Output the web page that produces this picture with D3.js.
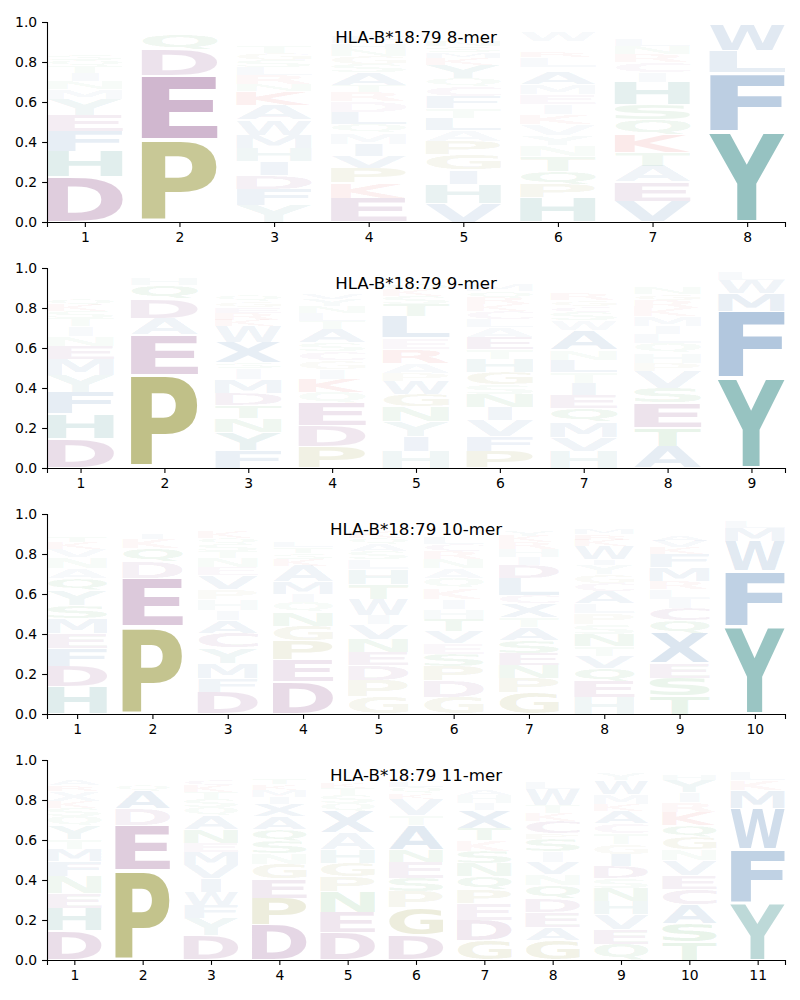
<!DOCTYPE html>
<html>
<head>
<meta charset="utf-8">
<script src="https://cdn.jsdelivr.net/npm/d3@7/dist/d3.min.js"></script>
<style>
body { margin: 0; background: #fff; }
svg text { font-family: "DejaVu Sans", sans-serif; }
</style>
</head>
<body>
<div id="main"></div>
<script>
var allele = "HLA-B*18:79";
var lengths = [8, 9, 10, 11];

// residue frequencies per position, listed bottom to top of each stack
var mer8 = [
    {D:.225,H:.13,F:.10,E:.08,Y:.08,M:.05,N:.04,I:.04,T:.035,Q:.03,S:.03,V:.025,A:.025,K:.02,R:.02,G:.015,L:.02,P:.015,W:.01,C:.01},
    {P:.41,E:.32,D:.13,Q:.075,A:.012,S:.01,N:.008,T:.007,G:.006,K:.005,V:.004,L:.004,R:.003,H:.003},
    {Y:.085,F:.08,D:.07,I:.07,H:.065,M:.065,W:.075,A:.075,K:.07,N:.035,R:.045,L:.04,S:.035,G:.035,T:.035,Q:.025,V:.025,E:.025,P:.02,C:.015},
    {E:.12,K:.075,P:.075,V:.06,I:.06,M:.055,Q:.045,L:.06,D:.055,R:.045,T:.035,A:.065,S:.04,G:.04,N:.035,H:.03,F:.03,Y:.025,W:.02,C:.015},
    {V:.095,H:.095,I:.07,G:.075,P:.07,A:.055,L:.06,T:.05,F:.06,C:.05,Q:.04,Y:.065,K:.035,M:.03,S:.03,N:.03,E:.025,R:.025,D:.02,W:.015},
    {H:.12,P:.07,Q:.065,T:.075,N:.055,Y:.05,V:.055,K:.05,I:.05,E:.05,M:.05,A:.06,S:.025,L:.05,R:.03,F:.025,G:.025,W:.05,D:.02,C:.02},
    {V:.105,E:.095,A:.08,T:.07,K:.085,Q:.075,S:.075,H:.115,I:.05,C:.05,R:.04,N:.04,L:.03,M:.02,G:.02,D:.015,F:.015,P:.01,W:.005,Y:.005},
    {Y:.455,F:.29,L:.11,W:.13,M:.015}
];

var mer9 = [
    {D:.145,H:.125,F:.11,Y:.085,M:.08,E:.065,N:.05,I:.05,T:.04,S:.035,K:.03,Q:.03,V:.025,L:.025,A:.025,R:.02,G:.02,P:.015,W:.01,C:.01},
    {P:.465,E:.2,A:.085,D:.095,Q:.07,H:.035,S:.015,N:.01,T:.008,K:.006,G:.005,V:.004,L:.003},
    {F:.09,Y:.09,N:.07,T:.065,D:.06,M:.07,I:.055,S:.03,X:.1,W:.08,K:.03,R:.035,E:.03,G:.03,Q:.03,L:.025,A:.025,V:.025,P:.02,C:.015,H:.015},
    {P:.105,D:.105,E:.115,Q:.055,K:.065,I:.05,G:.045,C:.045,S:.04,A:.07,T:.04,L:.04,N:.035,Y:.035,V:.03,R:.025,H:.02,F:.02,M:.015,W:.01},
    {H:.085,I:.075,Y:.075,N:.075,G:.06,W:.065,P:.04,A:.05,R:.07,E:.055,L:.11,T:.06,S:.04,K:.03,Q:.03,V:.025,F:.02,D:.015,M:.01,C:.01},
    {P:.085,F:.075,V:.08,I:.065,N:.065,S:.05,G:.06,H:.065,T:.05,E:.06,A:.05,L:.04,C:.04,K:.035,R:.03,Q:.035,M:.03,Y:.025,W:.02,D:.015},
    {H:.085,V:.07,M:.075,Q:.07,E:.065,I:.06,T:.055,L:.06,N:.05,A:.1,W:.05,S:.04,C:.03,G:.03,R:.03,K:.025,Y:.02,F:.02,D:.015,P:.01},
    {A:.11,T:.09,E:.125,S:.075,V:.085,P:.04,H:.05,Q:.05,L:.045,I:.04,M:.05,K:.04,R:.04,G:.03,N:.03,F:.025,D:.02,W:.015,Y:.01,C:.01},
    {Y:.45,F:.335,M:.09,W:.065,L:.04,I:.015,V:.005}
];

var mer10 = [
    {H:.135,D:.105,F:.09,E:.075,M:.075,S:.065,Y:.075,Q:.06,A:.05,N:.055,V:.04,K:.035,T:.03,R:.025,L:.025,I:.02,G:.02,P:.015,W:.01,C:.01},
    {P:.44,E:.24,D:.08,Q:.07,K:.045,I:.03,A:.025,S:.02,T:.015,N:.01,G:.008,H:.006,V:.005,L:.004},
    {D:.11,F:.07,M:.075,Y:.075,C:.075,A:.065,I:.05,H:.055,P:.05,V:.07,E:.04,N:.045,T:.035,S:.035,Q:.03,K:.03,G:.025,R:.02,L:.02,W:.015},
    {D:.16,E:.11,P:.095,G:.075,N:.07,Q:.05,I:.04,M:.06,A:.08,K:.035,S:.03,T:.03,L:.03,V:.025,R:.025,X:.02,H:.02,F:.02,Y:.015},
    {G:.085,P:.085,D:.075,E:.065,N:.065,V:.075,I:.045,W:.08,T:.075,H:.075,L:.05,S:.04,A:.035,Q:.03,K:.03,R:.025,F:.02,Y:.02,M:.015,C:.01},
    {G:.085,D:.08,P:.075,S:.06,E:.055,V:.06,T:.06,H:.05,I:.05,K:.055,Q:.05,A:.05,N:.045,R:.04,C:.035,L:.035,Y:.025,F:.025,M:.02,W:.015},
    {G:.105,P:.075,N:.065,E:.06,S:.065,A:.065,T:.05,X:.07,C:.04,L:.085,D:.065,I:.04,H:.04,R:.035,K:.03,Y:.03,M:.025,F:.02,Q:.015,W:.01},
    {H:.085,E:.08,Q:.065,V:.06,T:.05,N:.06,S:.05,P:.055,L:.05,A:.06,C:.04,G:.045,Y:.045,I:.03,W:.065,K:.03,R:.03,M:.03,D:.02,F:.015},
    {T:.09,S:.09,E:.075,X:.15,Q:.065,C:.06,I:.045,L:.05,R:.04,M:.07,F:.065,K:.035,V:.03,A:.03,N:.025,G:.02,H:.02,Y:.015,D:.01,P:.01,W:.005},
    {Y:.44,F:.275,W:.15,M:.065,L:.035,I:.015,V:.01,H:.005,S:.005}
];

var mer11 = [
    {D:.145,H:.115,E:.075,N:.085,F:.075,M:.06,T:.05,Y:.065,Q:.05,S:.04,K:.035,X:.05,R:.03,A:.03,V:.025,L:.025,G:.02,I:.015,P:.01},
    {P:.45,E:.225,D:.08,A:.09,Q:.03,S:.025,T:.02,K:.02,N:.015,G:.012,V:.01,H:.008,L:.006,R:.005},
    {D:.125,Y:.085,F:.065,W:.065,I:.07,V:.065,M:.065,E:.045,N:.065,A:.07,Q:.045,S:.04,T:.035,K:.035,C:.03,R:.025,G:.02,H:.02,L:.015},
    {D:.175,P:.135,E:.095,G:.075,N:.055,S:.06,Q:.06,A:.065,X:.06,I:.035,M:.035,K:.03,T:.03,R:.025,V:.025,H:.02,F:.015},
    {D:.135,E:.105,N:.1,P:.075,G:.07,H:.065,A:.085,X:.11,Q:.04,S:.04,T:.035,K:.03,V:.025,I:.025,R:.02,L:.02,F:.015},
    {D:.125,G:.135,P:.08,S:.07,E:.08,N:.06,A:.125,T:.05,V:.08,K:.03,Q:.03,L:.03,R:.02,H:.02,I:.02,F:.015,Y:.01,M:.01},
    {G:.1,D:.1,E:.08,P:.07,Q:.07,N:.065,S:.06,K:.055,T:.06,X:.09,I:.035,H:.04,A:.03,V:.025,R:.025,L:.02,F:.015,Y:.015,M:.01,W:.01},
    {G:.1,A:.065,E:.075,D:.065,Q:.07,N:.055,V:.06,I:.055,S:.06,P:.03,C:.06,K:.04,T:.04,W:.08,L:.035,R:.025,M:.02,H:.02,Y:.015,F:.01},
    {Q:.08,E:.075,V:.075,H:.065,N:.065,S:.05,D:.06,I:.06,G:.05,T:.055,C:.05,A:.06,K:.035,M:.05,W:.07,Y:.035,R:.025,L:.02,F:.01},
    {T:.09,S:.09,A:.095,C:.08,E:.07,V:.075,N:.055,G:.06,Q:.06,K:.065,R:.05,I:.05,Y:.06,H:.03,L:.025,M:.015,D:.01,F:.01},
    {Y:.285,F:.27,W:.205,M:.09,K:.05,L:.04,I:.025,R:.015,H:.01,V:.01}
];

var panels = [mer8, mer9, mer10, mer11];

// residue colours (glyph opacity follows frequency)
var aaColors = {
    D: "#6e1e69", E: "#6e1e69", C: "#6e1e69",
    P: "#797900", G: "#797900",
    Y: "#187a76", H: "#187a76",
    K: "#d01010", R: "#d01010",
    S: "#1e8c28", T: "#1e8c28", N: "#1e8c28", Q: "#1e8c28",
    A: "#17579b", V: "#17579b", L: "#17579b", I: "#17579b",
    M: "#17579b", F: "#17579b", W: "#17579b", X: "#17579b"
};

var W = 800, H = 1000;
var plotLeft = 47, plotRight = 785;
var panelTops = [22, 268, 514, 760];
var plotH = 200;

var svg = d3.select("#main").append("svg")
    .attr("width", W)
    .attr("height", H);

// measure the ink box of each glyph so it can be stretched into its cell
var FS = 100;
var ctx = document.createElement("canvas").getContext("2d");
ctx.font = "bold " + FS + "px 'DejaVu Sans'";
var boxCache = {};
function inkBox(ch) {
    if (!boxCache[ch]) {
        var m = ctx.measureText(ch);
        boxCache[ch] = {
            l: m.actualBoundingBoxLeft, r: m.actualBoundingBoxRight,
            a: m.actualBoundingBoxAscent, d: m.actualBoundingBoxDescent
        };
    }
    return boxCache[ch];
}
var eBox = inkBox("E");
var eWidth = eBox.l + eBox.r;

panels.forEach(function (cols, pi) {
    var n = lengths[pi];
    var g = svg.append("g")
        .attr("transform", "translate(" + plotLeft + "," + panelTops[pi] + ")");

    var x = d3.scaleLinear().domain([0.6, n + 0.4]).range([0, plotRight - plotLeft]);
    var y = d3.scaleLinear().domain([0, 1]).range([plotH, 0]);

    var glyphs = [];
    cols.forEach(function (col, i) {
        var pos = i + 1;
        var cum = 0;
        Object.keys(col).forEach(function (aa) {
            var v = col[aa];
            glyphs.push({ aa: aa, pos: pos, lo: cum + v * 0.025, hi: cum + v * 0.975, v: v });
            cum += v;
        });
    });

    g.selectAll("text.glyph")
        .data(glyphs)
        .enter()
        .append("text")
        .attr("class", "glyph")
        .attr("font-size", FS)
        .attr("font-weight", "bold")
        .attr("fill", function (d) { return aaColors[d.aa]; })
        .attr("fill-opacity", function (d) { return Math.min(1, d.v); })
        .attr("transform", function (d) {
            var b = inkBox(d.aa);
            var cw = x(d.pos + 0.4) - x(d.pos - 0.4);
            var gw = b.l + b.r, gh = b.a + b.d;
            var sx = Math.min(cw / gw, cw / eWidth);
            var sy = (y(d.lo) - y(d.hi)) / gh;
            var tx = x(d.pos) - sx * (b.r - b.l) / 2;
            var ty = y(d.hi) + sy * b.a;
            return "translate(" + tx + "," + ty + ") scale(" + sx + "," + sy + ")";
        })
        .text(function (d) { return d.aa; });

    var yAxis = d3.axisLeft(y)
        .tickValues([0, 0.2, 0.4, 0.6, 0.8, 1.0])
        .tickFormat(d3.format(".1f"))
        .tickSizeOuter(0)
        .tickSize(4.9)
        .tickPadding(4.9);
    var xAxis = d3.axisBottom(x)
        .tickValues(d3.range(1, n + 1))
        .tickFormat(d3.format("d"))
        .tickSizeOuter(0)
        .tickSize(4.9)
        .tickPadding(4.9);

    var ya = g.append("g").call(yAxis);
    var xa = g.append("g").attr("transform", "translate(0," + plotH + ")").call(xAxis);
    [ya, xa].forEach(function (a) {
        a.selectAll("path.domain").attr("stroke", "#000").attr("stroke-width", 1.1);
        a.selectAll(".tick line").attr("stroke", "#000").attr("stroke-width", 1.1);
        a.selectAll(".tick text").attr("font-size", "13.9px").attr("fill", "#000")
            .style("font-family", "'DejaVu Sans', sans-serif");
    });

    g.append("text")
        .attr("x", (plotRight - plotLeft) / 2)
        .attr("y", 20.8)
        .attr("text-anchor", "middle")
        .attr("font-size", "16.67px")
        .attr("fill", "#000")
        .text(allele + " " + n + "-mer");
});
</script>
</body>
</html>
